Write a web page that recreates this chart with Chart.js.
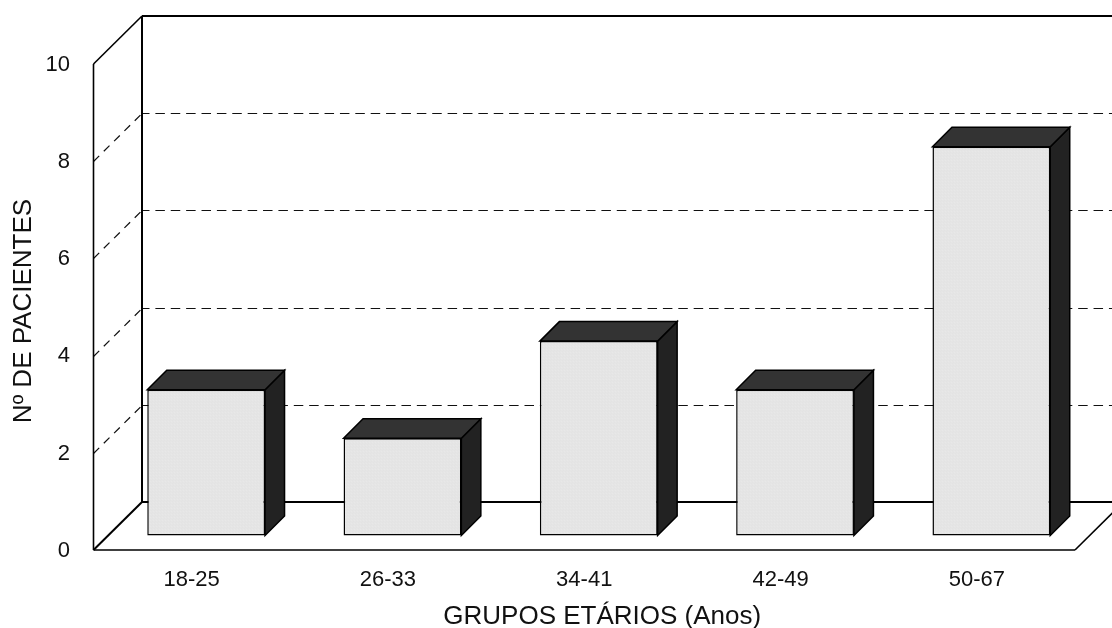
<!DOCTYPE html>
<html>
<head>
<meta charset="utf-8">
<style>
  html, body { margin: 0; padding: 0; background: #fff; }
  #wrap { width: 1112px; height: 628px; overflow: hidden; }
</style>
<script src="https://cdn.jsdelivr.net/npm/chart.js@4"></script>
</head>
<body>
<div id="wrap"><canvas id="c" width="1112" height="628"></canvas></div>
<script>
const categories = ['18-25', '26-33', '34-41', '42-49', '50-67'];
const pacientes = [3, 2, 4, 3, 8];
const axisMax = 10;
const axisStep = 2;
const xTitle = 'GRUPOS ETÁRIOS (Anos)';
const yTitle = 'Nº DE PACIENTES';

// Depth of the box the chart sits in, and of the bars inside it
const wallDx = 48.5, wallDy = 48;
const barShift = 14.5, barDepth = 19.5;
const fontFamily = '"Liberation Sans", Arial, sans-serif';

// Fine stipple used on the front face of the bars
function stipple() {
  const p = document.createElement('canvas');
  p.width = 3; p.height = 3;
  const g = p.getContext('2d');
  g.fillStyle = '#e3e3e3';
  g.fillRect(0, 0, 3, 3);
  g.fillStyle = '#ededed';
  g.fillRect(0, 0, 1, 1);
  g.fillRect(1, 1, 1, 1);
  return g.createPattern(p, 'repeat');
}

const line = (ctx, x1, y1, x2, y2) => {
  ctx.beginPath(); ctx.moveTo(x1, y1); ctx.lineTo(x2, y2); ctx.stroke();
};

const box3d = {
  id: 'box3d',
  beforeDatasetsDraw(chart) {
    const { ctx, chartArea: a, scales: { y } } = chart;
    const bx = a.left + wallDx;
    const W = chart.width + 60;
    ctx.save();
    // dashed value lines: along the side wall, then across the back wall
    ctx.strokeStyle = '#111';
    y.ticks.forEach(t => {
      if (t.value <= 0 || t.value >= axisMax) return;
      const py = Math.round(y.getPixelForValue(t.value)) + 0.5;
      ctx.lineWidth = 1.25;
      ctx.setLineDash([8, 6.5]);
      ctx.lineDashOffset = 0;
      line(ctx, a.left, py, bx, py - wallDy);
      ctx.lineWidth = 1;
      ctx.setLineDash([9.5, 5.88]);
      ctx.lineDashOffset = 2;
      line(ctx, bx, py - wallDy, W, py - wallDy);
    });
    ctx.setLineDash([]);
    ctx.lineDashOffset = 0;
    // outline of the walls and the floor
    ctx.strokeStyle = '#000';
    ctx.lineWidth = 1.6;
    line(ctx, a.left, a.top, a.left, a.bottom);
    line(ctx, a.left, a.bottom, a.right, a.bottom);
    line(ctx, a.right, a.bottom, a.right + wallDx, a.bottom - wallDy);
    line(ctx, a.left, a.top, bx, a.top - wallDy);
    ctx.lineWidth = 2;
    line(ctx, bx, a.top - wallDy, bx, a.bottom - wallDy);
    line(ctx, bx, a.top - wallDy, W, a.top - wallDy);
    line(ctx, bx, a.bottom - wallDy, W, a.bottom - wallDy);
    line(ctx, a.left, a.bottom, bx, a.bottom - wallDy);

    // value labels beside the front wall
    ctx.fillStyle = '#111';
    ctx.font = '22px ' + fontFamily;
    ctx.textAlign = 'right';
    ctx.textBaseline = 'middle';
    y.ticks.forEach(t => {
      ctx.fillText(t.label, a.left - 23.5, y.getPixelForValue(t.value) + 0.8);
    });

    // captions of both axes, set slightly off the centre of the front wall
    ctx.font = '26px ' + fontFamily;
    ctx.textAlign = 'center';
    ctx.fillText(xTitle, (a.left + a.right) / 2 + 18, 617);
    ctx.translate(23.5, (a.top + a.bottom) / 2 + 4);
    ctx.rotate(-Math.PI / 2);
    ctx.fillText(yTitle, 0, 0);
    ctx.restore();

    // bars stand a little way into the box; their side and top faces come first
    ctx.save();
    ctx.translate(barShift, -barShift);
    const meta = chart.getDatasetMeta(0);
    ctx.lineWidth = 1.5;
    ctx.strokeStyle = '#000';
    ctx.lineJoin = 'miter';
    meta.data.forEach(bar => {
      const l = bar.x - bar.width / 2, r = bar.x + bar.width / 2;
      const t = bar.y, b = bar.base;
      ctx.fillStyle = '#222222';
      ctx.beginPath();
      ctx.moveTo(r, t); ctx.lineTo(r + barDepth, t - barDepth);
      ctx.lineTo(r + barDepth, b - barDepth); ctx.lineTo(r, b);
      ctx.closePath(); ctx.fill(); ctx.stroke();
      ctx.fillStyle = '#333333';
      ctx.beginPath();
      ctx.moveTo(l, t); ctx.lineTo(l + barDepth, t - barDepth);
      ctx.lineTo(r + barDepth, t - barDepth); ctx.lineTo(r, t);
      ctx.closePath(); ctx.fill(); ctx.stroke();
    });
  },
  afterDatasetsDraw(chart) {
    chart.ctx.restore();
  }
};

new Chart(document.getElementById('c'), {
  type: 'bar',
  data: {
    labels: categories,
    datasets: [{
      data: pacientes,
      backgroundColor: stipple(),
      borderColor: '#000',
      borderWidth: 1.5,
      borderSkipped: false,
      barPercentage: 0.6,
      categoryPercentage: 1,
      clip: false
    }]
  },
  plugins: [box3d],
  options: {
    responsive: false,
    animation: false,
    devicePixelRatio: 1,
    layout: { padding: { top: 64, right: 37, left: 0, bottom: 0 } },
    plugins: { legend: { display: false }, tooltip: { enabled: false } },
    scales: {
      x: {
        grid: { display: false, drawTicks: false },
        border: { display: false },
        afterFit(s) { s.height = 78; },
        ticks: {
          color: '#111', padding: 17,
          maxRotation: 0, autoSkip: false,
          font: { family: fontFamily, size: 22 }
        }
      },
      y: {
        min: 0, max: axisMax,
        grid: { display: false, drawTicks: false },
        border: { display: false },
        afterFit(s) { s.width = 93.5; },
        ticks: { stepSize: axisStep, display: false }
      }
    }
  }
});
</script>
</body>
</html>
